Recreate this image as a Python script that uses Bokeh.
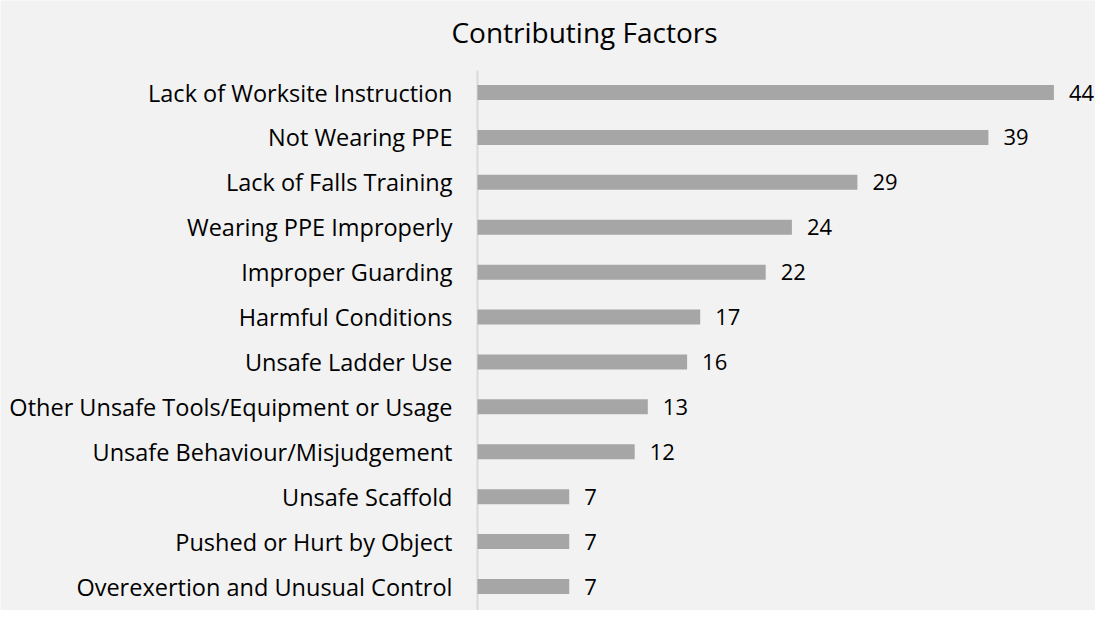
from bokeh.plotting import figure
from bokeh.models import ColumnDataSource, Range1d, LabelSet
from bokeh.core.properties import value
from bokeh.embed import file_html
from bokeh.resources import INLINE

categories = [
    "Lack of Worksite Instruction",
    "Not Wearing PPE",
    "Lack of Falls Training",
    "Wearing PPE Improperly",
    "Improper Guarding",
    "Harmful Conditions",
    "Unsafe Ladder Use",
    "Other Unsafe Tools/Equipment or Usage",
    "Unsafe Behaviour/Misjudgement",
    "Unsafe Scaffold",
    "Pushed or Hurt by Object",
    "Overexertion and Unusual Control",
]
values = [44, 39, 29, 24, 22, 17, 16, 13, 12, 7, 7, 7]
title_text = "Contributing Factors"

n = len(categories)
ypos = [n - 1 - i for i in range(n)]

src = ColumnDataSource(dict(y=ypos, v=values, lab=[str(v) for v in values],
                            cat=categories, zero=[0] * n))

FONT = "Open Sans"
BG = "#F2F2F2"
W, H = 1095, 610
LEFT = 477           # pixel position of the value axis (x = 0)
TOP_PX = 92          # pixel centre of first category
LAST_PX = 586        # pixel centre of last category
STEP = (LAST_PX - TOP_PX) / (n - 1)
XSCALE = 13.1        # px per unit

y_top = (n - 1) + TOP_PX / STEP
y_bot = -(H - LAST_PX) / STEP
x_start = -LEFT / XSCALE
x_end = (W - LEFT) / XSCALE

p = figure(width=W, height=H, output_backend="svg", toolbar_location=None,
           x_range=Range1d(x_start, x_end), y_range=Range1d(y_bot, y_top),
           min_border=0)
p.background_fill_color = BG
p.border_fill_color = BG
p.outline_line_color = None
p.grid.visible = False
p.axis.visible = False

# vertical axis line, starting a little above the first bar
axis_top = (n - 1) + (TOP_PX - 70) / STEP
p.segment(x0=[0], y0=[y_bot], x1=[0], y1=[axis_top], line_color="#D9D9D9", line_width=2)

p.hbar(y="y", right="v", left=0, height=15 / STEP, source=src, color="#A6A6A6", line_color=None)

# category labels
p.text(x="zero", y="y", text="cat", source=src, x_offset=-25, text_align="right",
       text_baseline="middle", text_font=value(FONT), text_font_size="23.5px",
       text_color="#000000")

# value labels
labels = LabelSet(x="v", y="y", text="lab", source=src, x_offset=15, text_align="left",
                  text_baseline="middle", text_font=value(FONT), text_font_size="22px",
                  text_color="#000000")
p.add_layout(labels)

title_x = (584 - LEFT) / XSCALE
title_y = (n - 1) + (TOP_PX - 31) / STEP
p.text(x=[title_x], y=[title_y], text=[title_text], text_align="center", text_baseline="alphabetic",
       text_font=value(FONT), text_font_size="28px", text_color="#000000")

html = file_html(p, INLINE)
open("out.html", "w").write(html)
